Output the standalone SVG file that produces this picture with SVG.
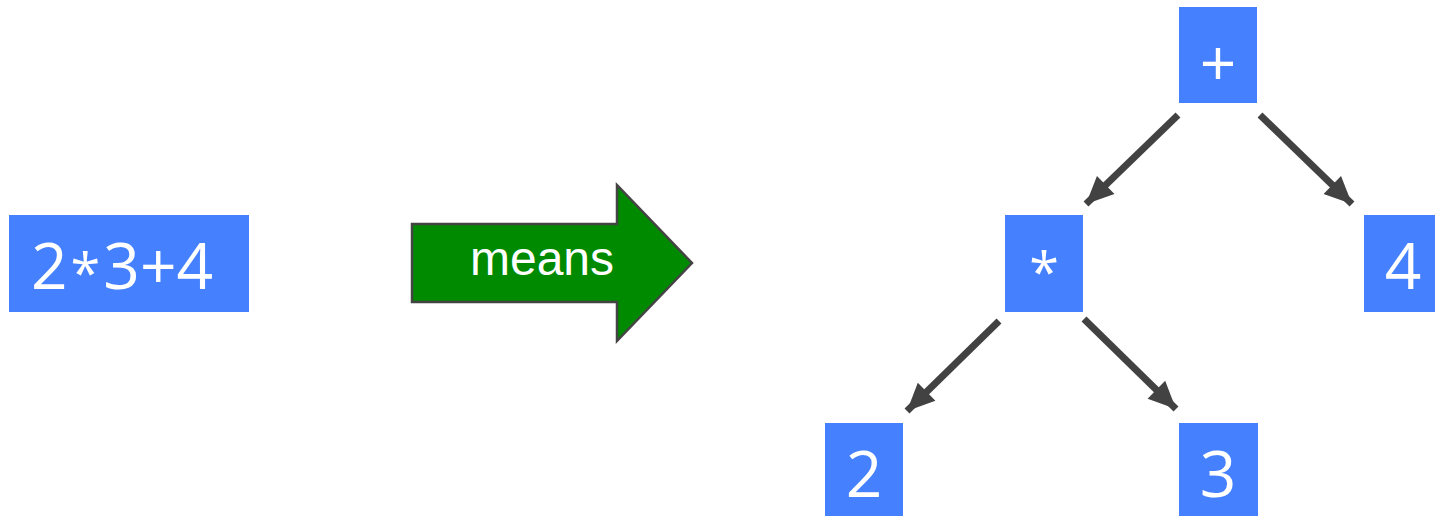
<svg xmlns="http://www.w3.org/2000/svg" width="1435" height="516" viewBox="0 0 1435 516">
<style>
.box{fill:#4580ff}
.lbl{fill:#fff;font-family:"Open Sans",sans-serif;font-size:64px}
.ast{font-size:54px}
.edge{stroke:#424242;stroke-width:7;fill:none}
.means{fill:#fff;font-family:"Liberation Sans",Arial,sans-serif;font-size:48px}
</style>
<defs>
<marker id="ah" markerUnits="userSpaceOnUse" markerWidth="32" markerHeight="32" viewBox="-26 -13 28 26" refX="0" refY="0" orient="auto">
<path d="M0,0 L-24,-11 L-24,11 Z" fill="#424242"/>
</marker>
</defs>
<rect width="1435" height="516" fill="#fff"/>
<g id="expr">
<rect class="box" x="9" y="215" width="240" height="97"/>
<text class="lbl" x="31" y="289">2<tspan class="ast" dx="3" dy="4">*</tspan><tspan dx="3" dy="-4">3+4</tspan></text>
</g>
<g id="means">
<path d="M412,224 L617,224 L617,185 L692,263 L617,341 L617,302 L412,302 Z" fill="#008a00" stroke="#444" stroke-width="2.5"/>
<text class="means" x="542" y="275" text-anchor="middle">means</text>
</g>
<g id="plus">
<rect class="box" x="1179" y="7" width="78" height="96"/>
<text class="lbl" x="1218" y="86" text-anchor="middle">+</text>
</g>
<g id="star">
<rect class="box" x="1005" y="215" width="78" height="97"/>
<text class="lbl ast" x="1044" y="292" text-anchor="middle">*</text>
</g>
<g id="four">
<rect class="box" x="1364" y="215" width="78" height="97"/>
<text class="lbl" x="1403" y="289" text-anchor="middle">4</text>
</g>
<g id="two">
<rect class="box" x="825" y="423" width="78" height="93"/>
<text class="lbl" x="864" y="497" text-anchor="middle">2</text>
</g>
<g id="three">
<rect class="box" x="1179" y="423" width="79" height="93"/>
<text class="lbl" x="1218" y="497" text-anchor="middle">3</text>
</g>
<g id="connectors">
<line class="edge" x1="1178" y1="115" x2="1086" y2="204" marker-end="url(#ah)"/>
<line class="edge" x1="1260" y1="115" x2="1352" y2="204" marker-end="url(#ah)"/>
<line class="edge" x1="999" y1="321" x2="907" y2="411" marker-end="url(#ah)"/>
<line class="edge" x1="1084" y1="319" x2="1176" y2="409" marker-end="url(#ah)"/>
</g>
</svg>
